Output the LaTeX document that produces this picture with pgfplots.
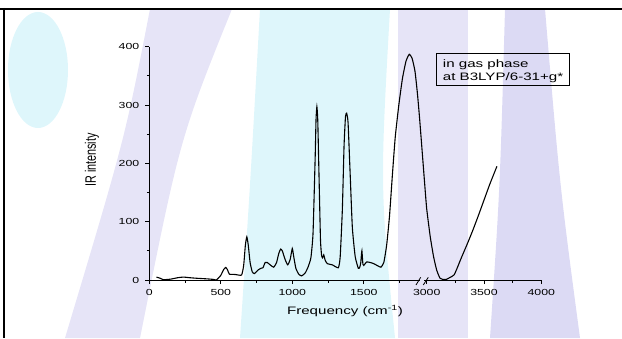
\documentclass[border=0pt]{standalone}
\usepackage{pgfplots}
\pgfplotsset{compat=1.18}
\usepackage{fontspec}
\setmainfont{Liberation Sans}
\newcommand{\sx}[1]{\scalebox{1.4}[1]{#1}}
\definecolor{bgcyan}{RGB}{222,246,251}
\definecolor{bglav}{RGB}{230,228,247}
\definecolor{bglav2}{RGB}{220,218,244}

\pgfplotstableread{
f y
50 5
75 3
100 0.5
150 1.5
200 4
240 5
280 4
330 3
400 2
450 1
470 0.2
500 8
520 18
535 21.5
548 17
560 10
600 9.5
645 8.5
660 25
672 60
682 74
692 60
705 30
720 14
735 11
760 17
780 20
795 21
810 30
825 30
845 26
870 22
890 30
905 45
918 53
930 50
950 35
968 26
985 35
1000 54
1010 40
1025 20
1045 10
1065 7
1090 12
1110 22
1130 38
1145 80
1160 210
1166 275
1172 297
1178 275
1185 200
1197 70
1205 42
1212 38
1220 43
1230 34
1245 28
1280 26
1322 21
1335 40
1350 120
1362 230
1372 280
1380 286
1390 270
1405 180
1420 90
1440 40
1462 20
1472 22
1479 30
1484 45
1487 50
1490 40
1494 27
1500 25
1520 31
1545 30
1570 28
1600 24
1620 22
1640 30
1660 60
1680 110
1700 180
1720 245
1745 300
1770 345
1795 375
1818 387
1838 380
1858 358
1875 320
1890 278
1910 215
1928 158
3000 122
3031 74
3060 40
3087 17
3116 3
3140 1
3170 1
3200 4
3220 6
3240 9
3265 20
3300 37
3350 60
3400 84
3450 110
3500 137
3550 164
3613 195
}\spectrum

\begin{document}
\begin{tikzpicture}[x=1pt,y=1pt]
\path[use as bounding box] (0,0) rectangle (622,338);
% soft background watermark
\fill[bgcyan] (38,268) ellipse (30 and 58);
\fill[bglav] (150,329) .. controls (125,200) .. (65,0) -- (140,0) .. controls (180,200) .. (232,329) -- cycle;
\fill[bgcyan] (240,0) .. controls (250,150) .. (260,329) -- (390,329) .. controls (380,150) .. (395,0) -- cycle;
\fill[bglav] (398,0) rectangle (468,329);
\fill[bglav2] (490,0) .. controls (500,150) .. (505,329) -- (545,329) .. controls (560,150) .. (580,0) -- cycle;
% frame lines
\draw[line width=1.7pt] (0,329.2) -- (622,329.2);
\draw[line width=2pt] (3.7,330) -- (3.7,0);

\begin{axis}[
  at={(149.3pt,58pt)}, anchor=south west,
  scale only axis, width=392pt, height=233.3pt,
  x coord trafo/.code={\pgfmathparse{#1<2500 ? #1 : 1940+(#1-3000)*0.8014}},
  xmin=0, xmax=4000, ymin=0, ymax=400,
  axis x line*=bottom, axis y line*=left,
  axis line style={line width=0.9pt},
  xtick={0,500,1000,1500,3000,3500,4000},
  xticklabels={\sx{0},\sx{500},\sx{1000},\sx{1500},\sx{3000},\sx{3500},\sx{4000}},
  minor xtick={250,750,1250,1750,3250,3750},
  ytick={0,100,200,300,400},
  yticklabels={\sx{0},\sx{100},\sx{200},\sx{300},\sx{400}},
  minor ytick={50,150,250,350},
  tick align=outside,
  major tick length=4pt, minor tick length=2.5pt,
  tick style={black, line width=0.8pt},
  ticklabel style={font=\fontsize{8.8}{10}\selectfont},
  xticklabel style={yshift=-1.5pt},
  yticklabel style={xshift=-2.5pt},
  clip=false,
]
\addplot[black, line width=1.1pt, smooth, tension=0.3] table[x=f, y=y] {\spectrum};
\end{axis}
% axis break
\fill[bglav] (420.4,56.3) rectangle (423.5,59.7);
\draw[line width=0.8pt] (416,53) -- (420.7,60.7);
\draw[line width=0.8pt] (423.3,53) -- (428.3,60.7);
% legend box
\draw[line width=0.8pt] (436,252.9) rectangle (569.3,284.7);
\node[anchor=base west, inner sep=0pt, font=\fontsize{10.8}{13}\selectfont] at (442.7,270.8) {\sx{in gas phase}};
\node[anchor=base west, inner sep=0pt, font=\fontsize{10.8}{13}\selectfont] at (442.7,257.4) {\sx{at B3LYP/6-31+g*}};
% axis labels
\node[font=\fontsize{10.8}{13}\selectfont] at (345,27.3) {\sx{Frequency (cm\textsuperscript{-1})}};
\node[rotate=90, font=\fontsize{10.8}{13}\selectfont] at (92,178) {\scalebox{1}[1.4]{IR intensity}};
\end{tikzpicture}
\end{document}
